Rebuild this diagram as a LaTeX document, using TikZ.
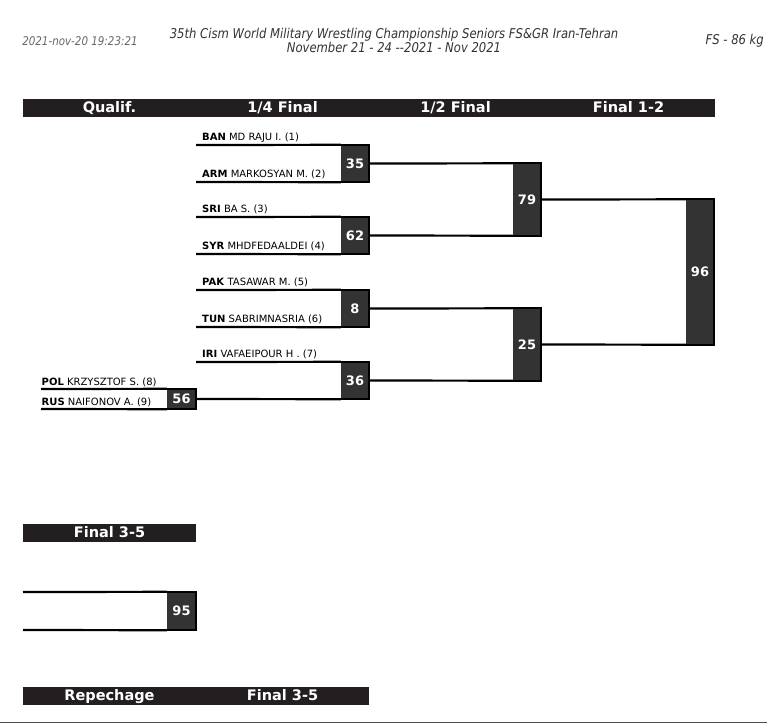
\documentclass[tikz,border=0pt]{standalone}
\usepackage{fontspec}
\setmainfont{DejaVu Sans}
\newfontfamily\hdrfont[FakeStretch=0.86]{DejaVu Sans}
\definecolor{barc}{HTML}{231F20}
\definecolor{boxc}{HTML}{333333}
\definecolor{datec}{HTML}{666666}
\begin{document}
\begin{tikzpicture}[x=1pt,y=-1pt,
  bar/.style={fill=barc, draw=none},
  bartext/.style={text=white, font=\fontsize{14.5}{16}\selectfont\bfseries, inner sep=0pt, anchor=base},
  score/.style={fill=boxc, draw=none, inner sep=0pt, text=white, font=\fontsize{13}{15}\selectfont\bfseries},
  nm/.style={anchor=base west, inner sep=0pt, font=\fontsize{10}{12}\selectfont},
  ln/.style={line width=2.2pt, black},
  hdr/.style={inner sep=0pt, font=\hdrfont\itshape\fontsize{13.5}{14}\selectfont, text=black!80}
]
\useasboundingbox (0,0) rectangle (767,724);

% page header
\node[hdr, text=datec, font=\hdrfont\itshape\fontsize{12}{14}\selectfont] (date) at (80,41) {2021-nov-20 19:23:21};
\node[hdr, align=center] (title) at (394,40) {35th Cism World Military Wrestling Championship Seniors FS\&GR Iran-Tehran\\November 21 - 24 --2021 - Nov 2021};
\node[hdr, anchor=east] (cat) at (764,41) {FS - 86 kg};

% round header bar
\fill[bar] (23,99) rectangle (715,116.5);
\node[bartext] (hq) at (109.5,112.7) {Qualif.};
\node[bartext] (h4) at (282.5,112.7) {1/4 Final};
\node[bartext] (h2) at (455.5,112.7) {1/2 Final};
\node[bartext] (h1) at (628.5,112.7) {Final 1-2};

% score boxes
\node[score, minimum width=28pt, minimum height=37pt] (m35) at (355,163.5) {35};
\node[score, minimum width=28pt, minimum height=37pt] (m62) at (355,235.5) {62};
\node[score, minimum width=28pt, minimum height=37pt] (m8)  at (355,308.5) {8};
\node[score, minimum width=28pt, minimum height=37pt] (m36) at (355,380.5) {36};
\node[score, minimum width=29pt, minimum height=20pt] (m56) at (181.5,399) {56};
\node[score, minimum width=28pt, minimum height=72pt] (m79) at (527,199.5) {79};
\node[score, minimum width=28pt, minimum height=72pt] (m25) at (527,344.5) {25};
\node[score, minimum width=28pt, minimum height=145pt] (m96) at (700,272) {96};
\node[score, minimum width=29pt, minimum height=38pt] (m95) at (181.5,611) {95};

% free ends of the entry lines
\coordinate (a1) at (196,145);
\coordinate (a2) at (196,182);
\coordinate (a3) at (196,217);
\coordinate (a4) at (196,254);
\coordinate (a5) at (196,290);
\coordinate (a6) at (196,327);
\coordinate (a7) at (196,362);
\coordinate (q8) at (41,389);
\coordinate (q9) at (41,409);
\coordinate (r1) at (23,592);
\coordinate (r2) at (23,630);

% frames of the boxes (top, right, bottom)
\foreach \m in {m35,m62,m8,m36,m56,m79,m25,m96,m95}
  \draw[ln] (\m.north west) -- (\m.north east) -- (\m.south east) -- (\m.south west);

% entry lines
\draw[ln] (a1) -- (m35.north west);
\draw[ln] (a2) -- (m35.south west);
\draw[ln] (a3) -- (m62.north west);
\draw[ln] (a4) -- (m62.south west);
\draw[ln] (a5) -- (m8.north west);
\draw[ln] (a6) -- (m8.south west);
\draw[ln] (a7) -- (m36.north west);
\draw[ln] (m56.east) -- (m36.south west);
\draw[ln] (q8) -- (m56.north west);
\draw[ln] (q9) -- (m56.south west);
\draw[ln] (r1) -- (m95.north west);
\draw[ln] (r2) -- (m95.south west);

% connectors between rounds
\draw[ln] (m35.east) -- (m79.north west);
\draw[ln] (m62.east) -- (m79.south west);
\draw[ln] (m8.east) -- (m25.north west);
\draw[ln] (m36.east) -- (m25.south west);
\draw[ln] (m79.east) -- (m96.north west);
\draw[ln] (m25.east) -- (m96.south west);

% names
\node[nm] (n1) at (202,140) {\textbf{BAN} MD RAJU I. (1)};
\node[nm] (n2) at (202,177.5) {\textbf{ARM} MARKOSYAN M. (2)};
\node[nm] (n3) at (202,212.3) {\textbf{SRI} BA S. (3)};
\node[nm] (n4) at (202,249.5) {\textbf{SYR} MHDFEDAALDEI (4)};
\node[nm] (n5) at (202,285) {\textbf{PAK} TASAWAR M. (5)};
\node[nm] (n6) at (202,322.5) {\textbf{TUN} SABRIMNASRIA (6)};
\node[nm] (n7) at (202,357.5) {\textbf{IRI} VAFAEIPOUR H . (7)};
\node[nm] (n8) at (41.5,385) {\textbf{POL} KRZYSZTOF S. (8)};
\node[nm] (n9) at (41.5,405) {\textbf{RUS} NAIFONOV A. (9)};

% Final 3-5 bar
\fill[bar] (23,524) rectangle (196,541.5);
\node[bartext] (hf35) at (109.5,537.7) {Final 3-5};

% bottom bar
\fill[bar] (23,687) rectangle (369,704.5);
\node[bartext] (hrep) at (109.5,700.7) {Repechage};
\node[bartext] (hf35b) at (282.5,700.7) {Final 3-5};

% page foot line
\draw[line width=1.5pt, black!70] (0,722.5) -- (767,722.5);
\end{tikzpicture}
\end{document}
